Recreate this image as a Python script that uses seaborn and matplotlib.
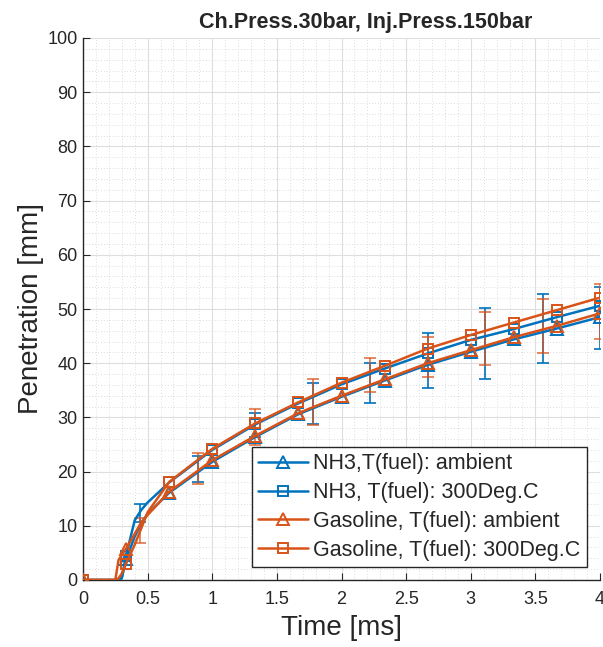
import matplotlib
matplotlib.use('Agg')
import matplotlib.pyplot as plt
import seaborn as sns
from matplotlib.ticker import MultipleLocator

# time points of the penetration curves [ms]
t_line = [0, 0.25, 0.275, 0.3, 0.333, 0.4, 0.45, 0.5, 0.667, 1.0, 1.333, 1.667,
          2.0, 2.333, 2.667, 3.0, 3.333, 3.667, 4.0]
marker_idx = [0, 4, 8, 9, 10, 11, 12, 13, 14, 15, 16, 17, 18]

# penetration [mm]
nh3_amb = [0, 0, 0, 0.3, 3.8, 8.0, 10.5, 12.2, 16.1, 21.8, 26.4, 30.6,
           33.8, 36.8, 39.7, 42.1, 44.4, 46.4, 48.5]
nh3_300 = [0, 0, 0, 0.5, 4.5, 11.0, 12.9, 14.3, 18.0, 24.0, 28.7, 32.6,
           36.1, 39.0, 41.8, 44.3, 46.3, 48.5, 50.6]
gas_amb = [0, 0, 3.7, 4.6, 5.8, 8.5, 10.6, 12.0, 16.3, 22.1, 26.6, 30.8,
           34.0, 37.0, 40.0, 42.4, 44.8, 46.9, 49.2]
gas_300 = [0, 0, 0.3, 1.2, 3.0, 6.5, 9.5, 12.5, 18.1, 24.2, 28.9, 32.8,
           36.4, 39.5, 42.7, 45.2, 47.5, 49.8, 52.1]

# scatter of the repeated shots
t_err = [0.444, 0.889, 1.333, 1.778, 2.222, 2.667, 3.111, 3.556, 4.0]
nh3_mean = [12.4, 20.4, 28.6, 32.5, 36.3, 40.5, 43.6, 46.4, 48.4]
nh3_std = [1.7, 2.4, 2.3, 3.8, 3.7, 5.1, 6.5, 6.3, 5.7]
gas_mean = [9.1, 20.6, 28.2, 32.8, 37.8, 41.2, 44.6, 46.8, 49.5]
gas_std = [2.3, 2.8, 3.3, 4.2, 3.2, 3.7, 4.9, 5.0, 5.1]

labels = ['NH3,T(fuel): ambient', 'NH3, T(fuel): 300Deg.C',
          'Gasoline, T(fuel): ambient', 'Gasoline, T(fuel): 300Deg.C']

blue = '#0072BD'
orange = '#D95319'

sns.set_style('ticks')
plt.rcParams['font.family'] = ['Liberation Sans', 'DejaVu Sans']

fig = plt.figure(figsize=(6.03, 6.47), dpi=100)
ax = fig.add_axes([83/603, 1 - 580/647, 517/603, 542/647])

# error bars behind the curves
ax.errorbar(t_err, nh3_mean, yerr=nh3_std, fmt='none', ecolor=blue,
            elinewidth=1.2, capsize=4, capthick=1.2, zorder=2)
ax.errorbar(t_err, gas_mean, yerr=gas_std, fmt='none', ecolor=orange,
            elinewidth=1.2, capsize=4, capthick=1.2, alpha=0.8, zorder=2)

series = [(nh3_amb, blue, '^', 9), (nh3_300, blue, 's', 7.5),
          (gas_amb, orange, '^', 9), (gas_300, orange, 's', 7.5)]
for (vals, col, mk, ms), lab in zip(series, labels):
    sns.lineplot(x=t_line, y=vals, ax=ax, color=col, linewidth=1.8,
                 marker=mk, markersize=ms, markevery=marker_idx,
                 markerfacecolor='none', markeredgecolor=col,
                 markeredgewidth=1.4, label=lab, zorder=3)

ax.set_xlim(0, 4)
ax.set_ylim(0, 100)
ax.xaxis.set_major_locator(MultipleLocator(0.5))
ax.xaxis.set_minor_locator(MultipleLocator(0.1))
ax.yaxis.set_major_locator(MultipleLocator(10))
ax.yaxis.set_minor_locator(MultipleLocator(2))
ax.set_xticks([0, 0.5, 1, 1.5, 2, 2.5, 3, 3.5, 4])
ax.set_xticklabels(['0', '0.5', '1', '1.5', '2', '2.5', '3', '3.5', '4'])

ax.grid(which='major', color='#dedede', linewidth=0.8, linestyle='-')
ax.grid(which='minor', color='#d2d2d2', linewidth=0.6, linestyle=(0, (1, 2.5)))
ax.set_axisbelow(True)

for side in ['top', 'right']:
    ax.spines[side].set_visible(False)
for side in ['left', 'bottom']:
    ax.spines[side].set_color('#262626')
    ax.spines[side].set_linewidth(1.0)

ax.tick_params(which='major', direction='in', length=5, width=0.8,
               color='#262626', labelsize=13, labelcolor='#262626')
ax.tick_params(which='minor', length=0)
ax.tick_params(axis='x', pad=8)
ax.tick_params(axis='y', pad=4)

ax.set_xlabel('Time [ms]', fontsize=20, color='#262626', labelpad=5)
ax.set_ylabel('Penetration [mm]', fontsize=20, color='#262626', labelpad=2)
ax.set_title('Ch.Press.30bar, Inj.Press.150bar', fontsize=15.5,
             fontweight='bold', x=0.547, pad=7)

leg = ax.legend(loc='lower right', fontsize=15.5, frameon=True, fancybox=False,
                framealpha=1, edgecolor='#262626', handlelength=2.3,
                handletextpad=0.25, labelspacing=0.36, borderpad=0.3,
                borderaxespad=0.6)
leg.get_frame().set_linewidth(1.0)

fig.savefig('out.png', dpi=100)
